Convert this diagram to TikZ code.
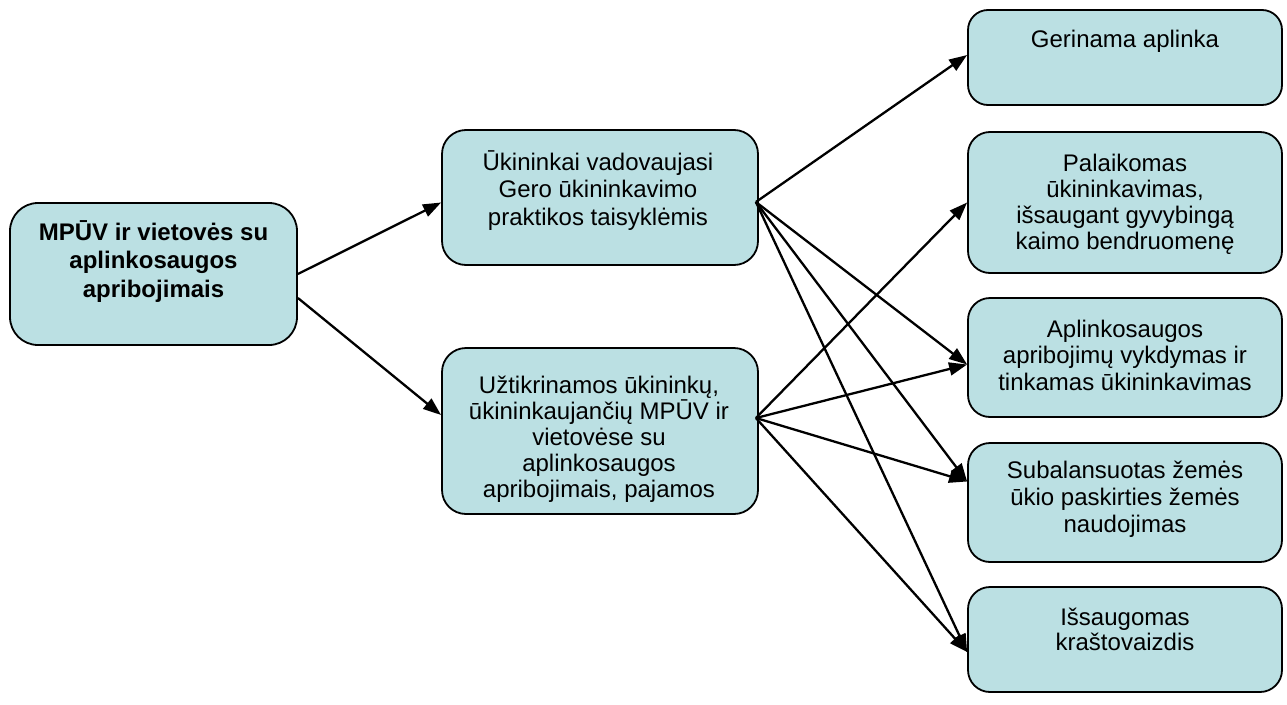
\documentclass[tikz,border=0pt]{standalone}
\usepackage{fontspec}
\setmainfont{Liberation Sans}
\usetikzlibrary{arrows.meta}
\definecolor{boxfill}{RGB}{187,224,227}
\begin{document}
\begin{tikzpicture}[x=1pt,y=-1pt,
  box/.style={draw=black,line width=1.8pt,fill=boxfill,rounded corners=24pt,inner sep=0pt},
  txt/.style={anchor=base,align=center,inner sep=0pt},
  link/.style={line width=2.3pt,-{Triangle[length=18pt,width=13pt]}}]
\useasboundingbox (0,0) rectangle (1287,704);

% boxes
\node[box,minimum width=287pt,minimum height=142pt,rounded corners=28pt] (A) at (153.5,274) {};
\node[box,minimum width=316pt,minimum height=135pt] (B) at (600,197.5) {};
\node[box,minimum width=316pt,minimum height=166pt] (C) at (600,431) {};
\node[box,minimum width=314pt,minimum height=95pt,rounded corners=20pt] (D1) at (1125,57.5) {};
\node[box,minimum width=314pt,minimum height=141pt,rounded corners=22pt] (D2) at (1125,202.5) {};
\node[box,minimum width=314pt,minimum height=119pt,rounded corners=22pt] (D3) at (1125,357.5) {};
\node[box,minimum width=314pt,minimum height=119pt,rounded corners=22pt] (D4) at (1125,502.5) {};
\node[box,minimum width=314pt,minimum height=105pt,rounded corners=22pt] (D5) at (1125,639.5) {};

% texts (placed by the baseline of their last line)
\node[txt,font=\fontsize{24}{28.5}\bfseries] (tA) at (153.5,297)
  {MPŪV ir vietovės su\\aplinkosaugos\\apribojimais};
\node[txt,font=\fontsize{24}{27.5}\selectfont] (tB) at (598,225)
  {Ūkininkai vadovaujasi\\Gero ūkininkavimo\\praktikos taisyklėmis};
\node[txt,font=\fontsize{24}{26}\selectfont] (tC) at (599,497)
  {Užtikrinamos ūkininkų,\\ūkininkaujančių MPŪV ir\\vietovėse su\\aplinkosaugos\\apribojimais, pajamos};
\node[txt,font=\fontsize{24}{27}\selectfont] (tD1) at (1125,47) {Gerinama aplinka};
\node[txt,font=\fontsize{24}{26}\selectfont] (tD2) at (1125,249)
  {Palaikomas\\ūkininkavimas,\\išsaugant gyvybingą\\kaimo bendruomenę};
\node[txt,font=\fontsize{24}{26.5}\selectfont] (tD3) at (1125,390)
  {Aplinkosaugos\\apribojimų vykdymas ir\\tinkamas ūkininkavimas};
\node[txt,font=\fontsize{24}{27}\selectfont] (tD4) at (1125,532)
  {Subalansuotas žemės\\ūkio paskirties žemės\\naudojimas};
\node[txt,font=\fontsize{24}{25}\selectfont] (tD5) at (1125,650)
  {Išsaugomas\\kraštovaizdis};

% connector start points on the middle boxes
\coordinate (Bo) at ([xshift=-3pt,yshift=-4.5pt]B.east);
\coordinate (Co) at ([xshift=-3pt,yshift=13pt]C.east);

% connectors
\draw[link] (A.east) -- ([yshift=-5pt]B.west);
\draw[link] ([yshift=-24pt]A.east) -- ([yshift=16pt]C.west);

\draw[link] (Bo) -- ([yshift=2.5pt]D1.west);
\draw[link] (Bo) -- ([yshift=-7pt]D3.west);
\draw[link] (Bo) -- ([yshift=21pt]D4.west);
\draw[link] (Bo) -- ([yshift=-12.5pt]D5.west);

\draw[link] (Co) -- (D2.west);
\draw[link] (Co) -- ([yshift=-7pt]D3.west);
\draw[link] (Co) -- ([yshift=21pt]D4.west);
\draw[link] (Co) -- ([yshift=-12.5pt]D5.west);
\end{tikzpicture}
\end{document}
